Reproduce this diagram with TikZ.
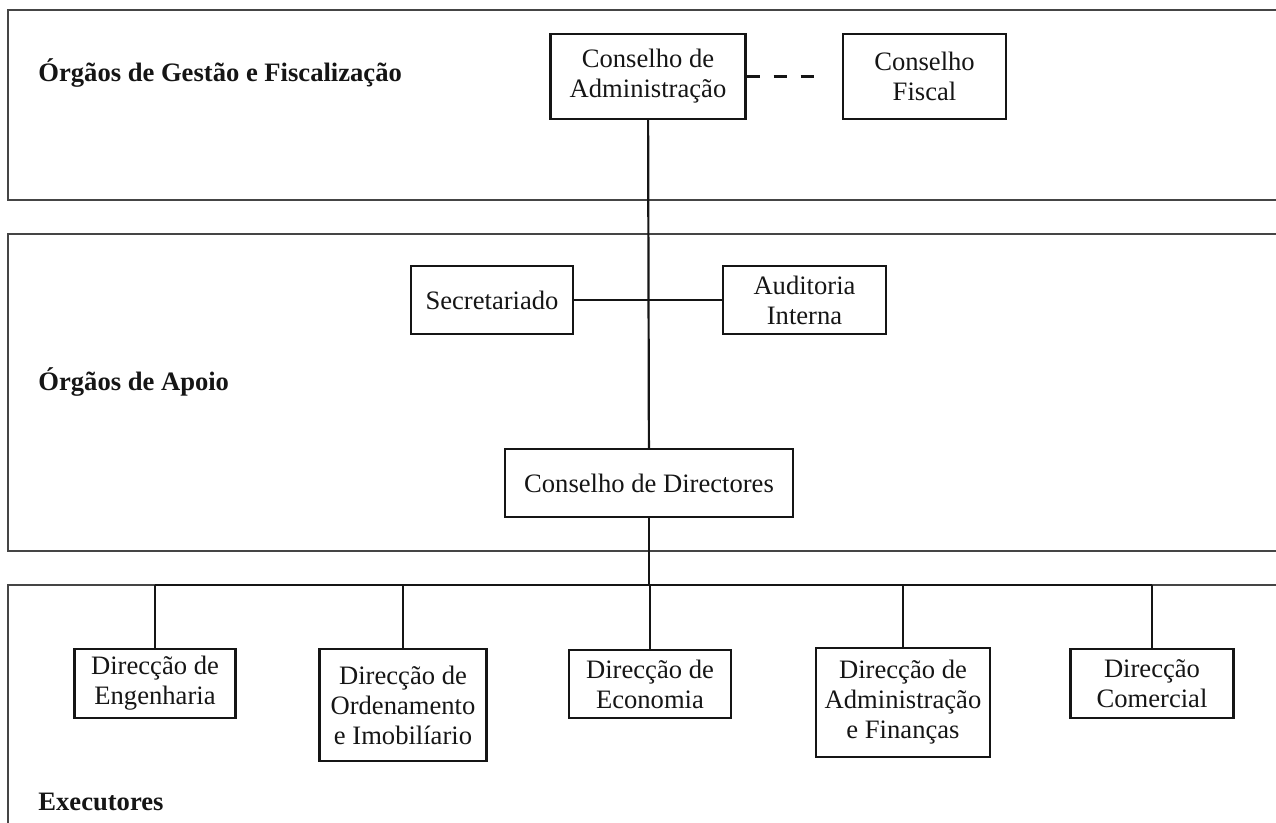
\documentclass[tikz,border=0pt]{standalone}
\usepackage{fontspec}
\setmainfont{Liberation Serif}
\usepackage{tikz}
\usetikzlibrary{positioning, calc}
\definecolor{orgink}{HTML}{151515}
\definecolor{panelgray}{HTML}{454545}

\begin{document}
\begin{tikzpicture}[
    x=0.5pt, y=-0.5pt,
    unit/.style={rectangle, draw=orgink, line width=1.2pt, align=center,
        font=\fontsize{13.3}{15}\selectfont, text=orgink, inner sep=2pt},
    band/.style={draw=panelgray, line width=0.7pt},
    tier/.style={anchor=base west, inner sep=0pt, font=\fontsize{13.3}{15}\selectfont\bfseries, text=orgink},
    link/.style={draw=orgink, line width=1.1pt}
]
    \useasboundingbox (0,0) rectangle (1276,823);

    % panels, open on the right
    \draw[band] (1280,10) -- (8,10) -- (8,200) -- (1280,200);
    \draw[band] (1280,234) -- (8,234) -- (8,551) -- (1280,551);
    \draw[band] (1280,585) -- (8,585) -- (8,830);

    % panel titles
    \node[tier] (t1) at (38,82) {Órgãos de Gestão e Fiscalização};
    \node[tier] (t2) at (38,391) {Órgãos de Apoio};
    \node[tier] (t3) at (38,811) {Executores};

    % management
    \node[unit, minimum width=97.5pt, minimum height=42.5pt] (ca) at (648,76.5) {Conselho de\\Administração};
    \node[unit, minimum width=81.5pt, minimum height=42.5pt] (cf) at (924.5,76.5) {Conselho\\Fiscal};
    \coordinate[right=34pt of ca.east] (cfend);

    % support
    \node[unit, minimum width=81pt, minimum height=34pt] (sec) at (492,300) {Secretariado};
    \node[unit, minimum width=81.5pt, minimum height=34pt] (aud) at (804.5,300) {Auditoria\\Interna};
    \node[unit, minimum width=144pt, minimum height=34pt] (cd) at (649,483) {Conselho de Directores};

    % executors
    \node[unit, minimum width=80.5pt, minimum height=34.5pt] (eng) at (155,683.5) {Direcção de\\Engenharia};
    \node[unit, minimum width=83.5pt, minimum height=56pt] (ord) at (403,705) {Direcção de\\Ordenamento\\e Imobilíario};
    \node[unit, minimum width=81pt, minimum height=34pt] (eco) at (650,684) {Direcção de\\Economia};
    \node[unit, minimum width=87pt, minimum height=54.5pt] (adm) at (903,702.5) {Direcção de\\Administração\\e Finanças};
    \node[unit, minimum width=81.5pt, minimum height=34.5pt] (com) at (1152,683.5) {Direcção\\Comercial};
    \coordinate (bus) at (649,585);

    % connectors
    \draw[link, dash pattern=on 6.5pt off 7pt] (ca.east) -- (cfend);
    \draw[link] (ca) -- (cd);
    \draw[link] (sec) -- (aud);
    \draw[link] (cd) -- (bus);
    \draw[link] (eng.north |- bus) -- (com.north |- bus);
    \foreach \d in {eng, ord, eco, adm, com}
        \draw[link] (\d.north |- bus) -- (\d.north);
\end{tikzpicture}
\end{document}
